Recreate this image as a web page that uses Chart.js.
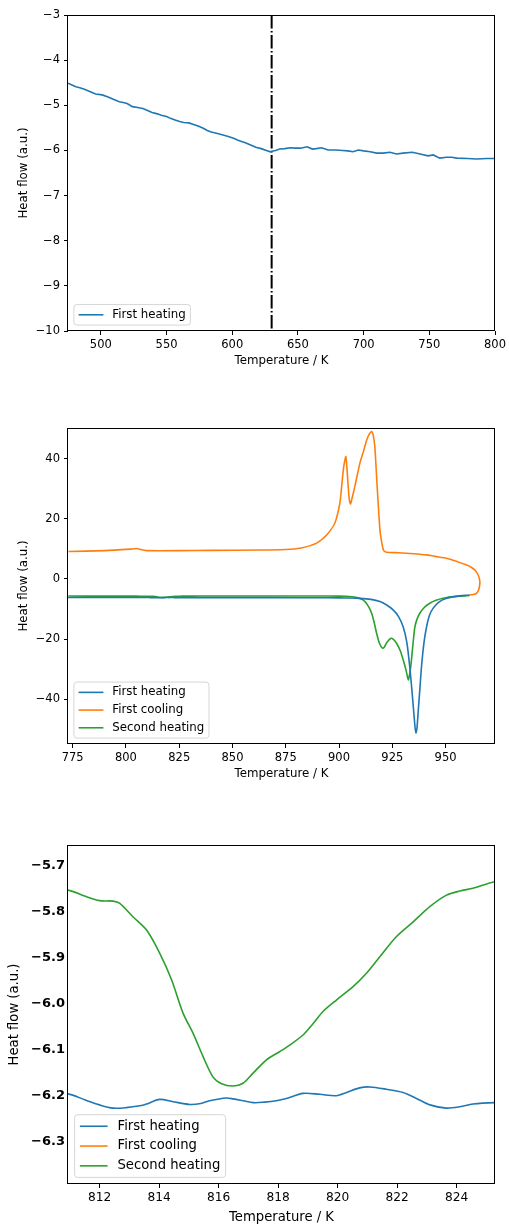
<!DOCTYPE html>
<html>
<head>
<meta charset="utf-8">
<script src="https://cdn.jsdelivr.net/npm/chart.js@4.4.1/dist/chart.umd.min.js"></script>
<style>
  body { margin: 0; background: #fff; width: 509px; height: 1224px; position: relative; overflow: hidden; }
  canvas { position: absolute; left: 0; }
</style>
</head>
<body>
<canvas id="dscLow" width="509" height="380" style="top:0px"></canvas>
<canvas id="dscFull" width="509" height="380" style="top:410px"></canvas>
<canvas id="dscZoom" width="509" height="396" style="top:830px"></canvas>
<script>
// DSC traces: [temperature K, heat flow a.u.]
const firstHeating = [
  [475,-4.51],[478,-4.55],[481,-4.59],[484,-4.61],[488,-4.65],[492,-4.70],[496,-4.75],[501,-4.77],
  [505,-4.81],[509,-4.86],[514,-4.92],[517,-4.94],[520,-4.96],[524,-5.03],[528,-5.05],[532,-5.07],
  [536,-5.12],[539,-5.16],[543,-5.19],[546,-5.22],[550,-5.25],[553,-5.29],[557,-5.33],[560,-5.36],
  [563,-5.38],[567,-5.39],[570,-5.42],[574,-5.46],[578,-5.51],[581,-5.56],[584,-5.59],[588,-5.62],
  [593,-5.66],[597,-5.69],[601,-5.73],[604,-5.77],[607,-5.80],[610,-5.83],[614,-5.88],[618,-5.93],
  [622,-5.96],[626,-6.00],[629,-6.03],[630,-6.02],[633,-6.00],[636,-5.97],[640,-5.96],[644,-5.94],
  [648,-5.95],[652,-5.95],[657,-5.92],[661,-5.97],[664,-5.96],[668,-5.94],[673,-5.99],[679,-5.99],
  [684,-6.00],[688,-6.01],[692,-6.03],[696,-5.99],[700,-6.01],[705,-6.03],[710,-6.06],[715,-6.06],
  [720,-6.04],[725,-6.08],[730,-6.06],[737,-6.04],[743,-6.08],[749,-6.12],[753,-6.10],[758,-6.17],
  [763,-6.15],[767,-6.15],[771,-6.17],[779,-6.18],[786,-6.19],[794,-6.18],[800,-6.18],
  [805,-6.19],[809,-6.19],[810.94,-6.196],[811.5,-6.209],[812,-6.220],[812.45,-6.227],[812.9,-6.226],
  [813.35,-6.222],[813.58,-6.218],[814.02,-6.208],[814.47,-6.213],[815.03,-6.219],[815.4,-6.217],
  [815.7,-6.211],[816.26,-6.205],[816.49,-6.207],[817.16,-6.215],[817.55,-6.214],[817.94,-6.211],
  [818.28,-6.206],[818.84,-6.195],[819.4,-6.197],[819.96,-6.200],[820.3,-6.193],[820.74,-6.183],
  [821.08,-6.181],[821.64,-6.186],[822.2,-6.193],[822.65,-6.206],[823.1,-6.220],[823.66,-6.227],
  [824.11,-6.224],[824.55,-6.218],[825.29,-6.215],[826.5,-6.214],[830,-6.22],[850,-6.22],
  [870,-6.23],[890,-6.25],[900,-6.30],[905,-6.35],[909.8,-6.45],[915,-6.8],[919.2,-7.5],[922,-8.5],
  [925.4,-10.3],[928,-12.6],[930.1,-15.9],[931.8,-21],[933.2,-29.2],[934.2,-37],[935.1,-44.6],
  [935.7,-49.5],[936.1,-51.3],[936.6,-49.5],[937.1,-44.6],[937.9,-37],[938.7,-29.2],[939.9,-21],
  [941.1,-15.9],[942.5,-12],[944.2,-9.7],[947,-7.6],[950.5,-6.4],[955,-5.8],[959.8,-5.45],[961,-5.4]
];

// cooling run, listed in measurement order (hot to cold)
const firstCooling = [
  [961.1,-5.3],[963,-5.2],[964.5,-4.8],[965.6,-3.5],[966.1,-1.4],[965.9,0],[965.3,1.3],[964,2.8],
  [962,3.9],[959.9,4.6],[955,5.9],[950.5,6.9],[945,7.5],[941.1,8.0],[935,8.4],[928,8.7],[922.3,8.9],
  [921,9.4],[920.2,11.5],[919.2,16.3],[917.9,30.7],[916.8,44],[916,48],[915.3,49.0],[914.3,48.3],
  [913,46.2],[911.5,42.5],[909.8,38.5],[907.4,30.7],[906,26.5],[905.4,24.9],[904.8,26.5],[904.3,30.7],
  [903.7,37],[903.2,40.7],[902.6,39],[902,36.2],[901.2,30.5],[900.4,25.2],[898,18.5],[894.2,14.6],
  [889.5,11.9],[881.6,10.2],[875,9.8],[862.9,9.6],[840,9.5],[825,9.4],[810,9.4],[808,9.6],[805,10.1],
  [802,9.9],[790,9.4],[773,9.1]
];

const secondHeating = [
  [773,-5.70],[790,-5.71],[800,-5.72],[805,-5.73],[809,-5.745],[810.94,-5.753],[811.5,-5.766],
  [812,-5.776],[812.45,-5.777],[812.68,-5.782],[813.12,-5.811],[813.58,-5.840],[814.02,-5.890],
  [814.42,-5.948],[814.81,-6.021],[815.14,-6.064],[815.48,-6.115],[815.81,-6.159],[816.1,-6.174],
  [816.49,-6.179],[816.82,-6.173],[817.16,-6.151],[817.61,-6.122],[818.06,-6.104],[818.39,-6.090],
  [818.84,-6.068],[819.18,-6.043],[819.51,-6.017],[819.96,-5.992],[820.52,-5.963],[820.97,-5.934],
  [821.42,-5.898],[821.98,-5.854],[822.54,-5.822],[823.1,-5.789],[823.66,-5.764],[824.11,-5.755],
  [824.55,-5.749],[825.29,-5.735],[827,-5.72],[835,-5.70],[850,-5.68],[870,-5.67],[890,-5.68],
  [900,-5.72],[905,-5.85],[909,-6.3],[911.3,-7.0],[913.5,-8.8],[915.3,-11.4],[916.5,-14.5],
  [917.6,-18],[919,-21.5],[920.4,-23],[921.3,-22.6],[922.3,-21.3],[924.2,-19.8],[925.5,-20.1],
  [927,-21.4],[928.7,-23.8],[930.1,-26.9],[931.5,-30.5],[932.5,-33.6],[933.3,-31],[934,-26.9],
  [934.8,-21],[935.6,-15.9],[936.7,-13.2],[937.9,-11.4],[940,-9.5],[942.6,-8.1],[945.5,-7.1],
  [948.9,-6.4],[955,-5.8],[961.4,-5.5]
];

const transitionT = 630;

const lowXTicks = [500, 550, 600, 650, 700, 750, 800];
const lowYTicks = [-10, -9, -8, -7, -6, -5, -4, -3];
const fullXTicks = [775, 800, 825, 850, 875, 900, 925, 950];
const fullYTicks = [-40, -20, 0, 20, 40];
const zoomXTicks = [812, 814, 816, 818, 820, 822, 824];
const zoomYTicks = [-6.3, -6.2, -6.1, -6.0, -5.9, -5.8, -5.7];

const FONT = 'DejaVu Sans';
const BLUE = '#1f77b4', ORANGE = '#ff7f0e', GREEN = '#2ca02c';

const pts = arr => arr.map(([x, y]) => ({ x, y }));
const fmt = dec => v => (v < 0 ? '\u2212' : '') + Math.abs(v).toFixed(dec);

// frame around the plot area plus a legend box in the lower-left corner
const framePlugin = {
  id: 'frame',
  afterDatasetsDraw(chart) {
    const { ctx, chartArea: a } = chart;
    ctx.save();
    ctx.strokeStyle = '#000';
    ctx.lineWidth = 1;
    const l = Math.round(a.left) - 0.5, t = Math.round(a.top) + 0.5;
    const r = Math.round(a.right) - 0.5, b = Math.round(a.bottom) - 0.5;
    ctx.strokeRect(l, t, r - l, b - t);
    ctx.restore();
  },
  afterDraw(chart, args, opts) {
    const { ctx, chartArea: a } = chart;
    const f = opts.size;
    const items = chart.data.datasets.filter(d => d.label);
    ctx.save();
    ctx.font = `${f}px "${FONT}"`;
    const textW = Math.max(...items.map(d => ctx.measureText(d.label).width));
    const pad = 0.4 * f, lineLen = 2.1 * f, gap = 0.75 * f, row = 1.5 * f;
    const w = pad + lineLen + gap + textW + pad;
    const h = items.length * row + 0.25 * f;
    const x0 = a.left + 0.5 * f, y0 = a.bottom - 0.5 * f - h;
    ctx.beginPath();
    ctx.roundRect(x0, y0, w, h, 3);
    ctx.fillStyle = 'rgba(255,255,255,0.8)';
    ctx.fill();
    ctx.strokeStyle = 'rgba(204,204,204,0.8)';
    ctx.lineWidth = 1;
    ctx.stroke();
    items.forEach((d, i) => {
      const cy = y0 + h / 2 + (i - (items.length - 1) / 2) * row;
      ctx.strokeStyle = d.borderColor;
      ctx.lineWidth = 1.6;
      ctx.beginPath();
      ctx.moveTo(x0 + pad, cy);
      ctx.lineTo(x0 + pad + lineLen, cy);
      ctx.stroke();
      ctx.fillStyle = '#000';
      ctx.textBaseline = 'middle';
      ctx.fillText(d.label, x0 + pad + lineLen + gap, cy);
    });
    ctx.restore();
  }
};

function axis(o) {
  return {
    min: o.min,
    max: o.max,
    afterBuildTicks: s => { s.ticks = o.ticks.map(v => ({ value: v })); },
    afterFit: s => {
      if (o.width !== undefined) s.width = o.width;
      if (o.height !== undefined) s.height = o.height;
    },
    grid: {
      display: true, drawOnChartArea: false, drawTicks: o.tickLen > 0,
      tickLength: o.tickLen, tickColor: '#000', tickWidth: 1
    },
    border: { display: false },
    ticks: {
      color: '#000', padding: o.tickPad, autoSkip: false, maxRotation: 0,
      font: { family: FONT, size: o.size, weight: o.weight || 'normal' },
      callback: o.fmt
    },
    title: {
      display: true, text: o.title, color: '#000', padding: 0,
      font: { family: FONT, size: o.titleSize }
    }
  };
}

// box: plot edges and title centres in canvas coordinates
function panel(id, box, datasets, x, y, tension, legendSize) {
  const canvas = document.getElementById(id);
  const padLeft = box.yTitleX - 0.6 * box.titleSize;
  const titleBottom = box.xTitleY + 0.6 * box.titleSize;
  x.height = titleBottom - box.bottom;
  y.width = box.left - padLeft;
  return new Chart(canvas, {
    type: 'scatter',
    data: { datasets },
    options: {
      responsive: false,
      animation: false,
      devicePixelRatio: 1,
      layout: {
        padding: { left: padLeft, right: canvas.width - box.right, top: box.top, bottom: canvas.height - titleBottom }
      },
      elements: {
        point: { radius: 0, hoverRadius: 0 },
        line: { borderWidth: 1.6, tension }
      },
      plugins: {
        legend: { display: false },
        tooltip: { enabled: false },
        frame: { size: legendSize }
      },
      scales: { x: axis(x), y: axis(y) }
    },
    plugins: [framePlugin]
  });
}

const heat1 = () => ({ label: 'First heating', data: pts(firstHeating), showLine: true, borderColor: BLUE, backgroundColor: BLUE });
const cool1 = () => ({ label: 'First cooling', data: pts(firstCooling), showLine: true, borderColor: ORANGE, backgroundColor: ORANGE });
const heat2 = () => ({ label: 'Second heating', data: pts(secondHeating), showLine: true, borderColor: GREEN, backgroundColor: GREEN });

// low-temperature part of the first heating with the marked transition
panel('dscLow',
  { left: 68, right: 495, top: 15, bottom: 331, xTitleY: 361, yTitleX: 24, titleSize: 11.8 },
  [
    heat1(),
    {
      data: pts([[transitionT, -3], [transitionT, -10]]), showLine: true,
      borderColor: '#000', borderWidth: 2, borderDash: [13.5, 2.5, 1.5, 2.5]
    }
  ],
  { min: 475, max: 800, ticks: lowXTicks, fmt: fmt(0), size: 11.5, tickLen: 4, tickPad: 3, title: 'Temperature / K', titleSize: 11.8 },
  { min: -10, max: -3, ticks: lowYTicks, fmt: fmt(0), size: 11.5, tickLen: 4, tickPad: 4, title: 'Heat flow (a.u.)', titleSize: 11.8 },
  0, 11.8);

// full heating / cooling cycle
panel('dscFull',
  { left: 68, right: 495, top: 18, bottom: 334, xTitleY: 364, yTitleX: 24, titleSize: 11.8 },
  [heat1(), cool1(), heat2()],
  { min: 772.8, max: 973.2, ticks: fullXTicks, fmt: fmt(0), size: 11.5, tickLen: 4, tickPad: 3, title: 'Temperature / K', titleSize: 11.8 },
  { min: -54.9, max: 50.2, ticks: fullYTicks, fmt: fmt(0), size: 11.5, tickLen: 4, tickPad: 4, title: 'Heat flow (a.u.)', titleSize: 11.8 },
  0.2, 11.8);

// close-up of the small event around 816 K
panel('dscZoom',
  { left: 68, right: 495, top: 15, bottom: 354, xTitleY: 387.3, yTitleX: 15, titleSize: 13.2 },
  [heat1(), cool1(), heat2()],
  { min: 810.94, max: 825.29, ticks: zoomXTicks, fmt: fmt(0), size: 12.2, tickLen: 4, tickPad: 3, title: 'Temperature / K', titleSize: 13.2 },
  { min: -6.392, max: -5.655, ticks: zoomYTicks, fmt: fmt(1), size: 13, weight: 'bold', tickLen: 0, tickPad: 3, title: 'Heat flow (a.u.)', titleSize: 13.2 },
  0.3, 13.2);
</script>
</body>
</html>
